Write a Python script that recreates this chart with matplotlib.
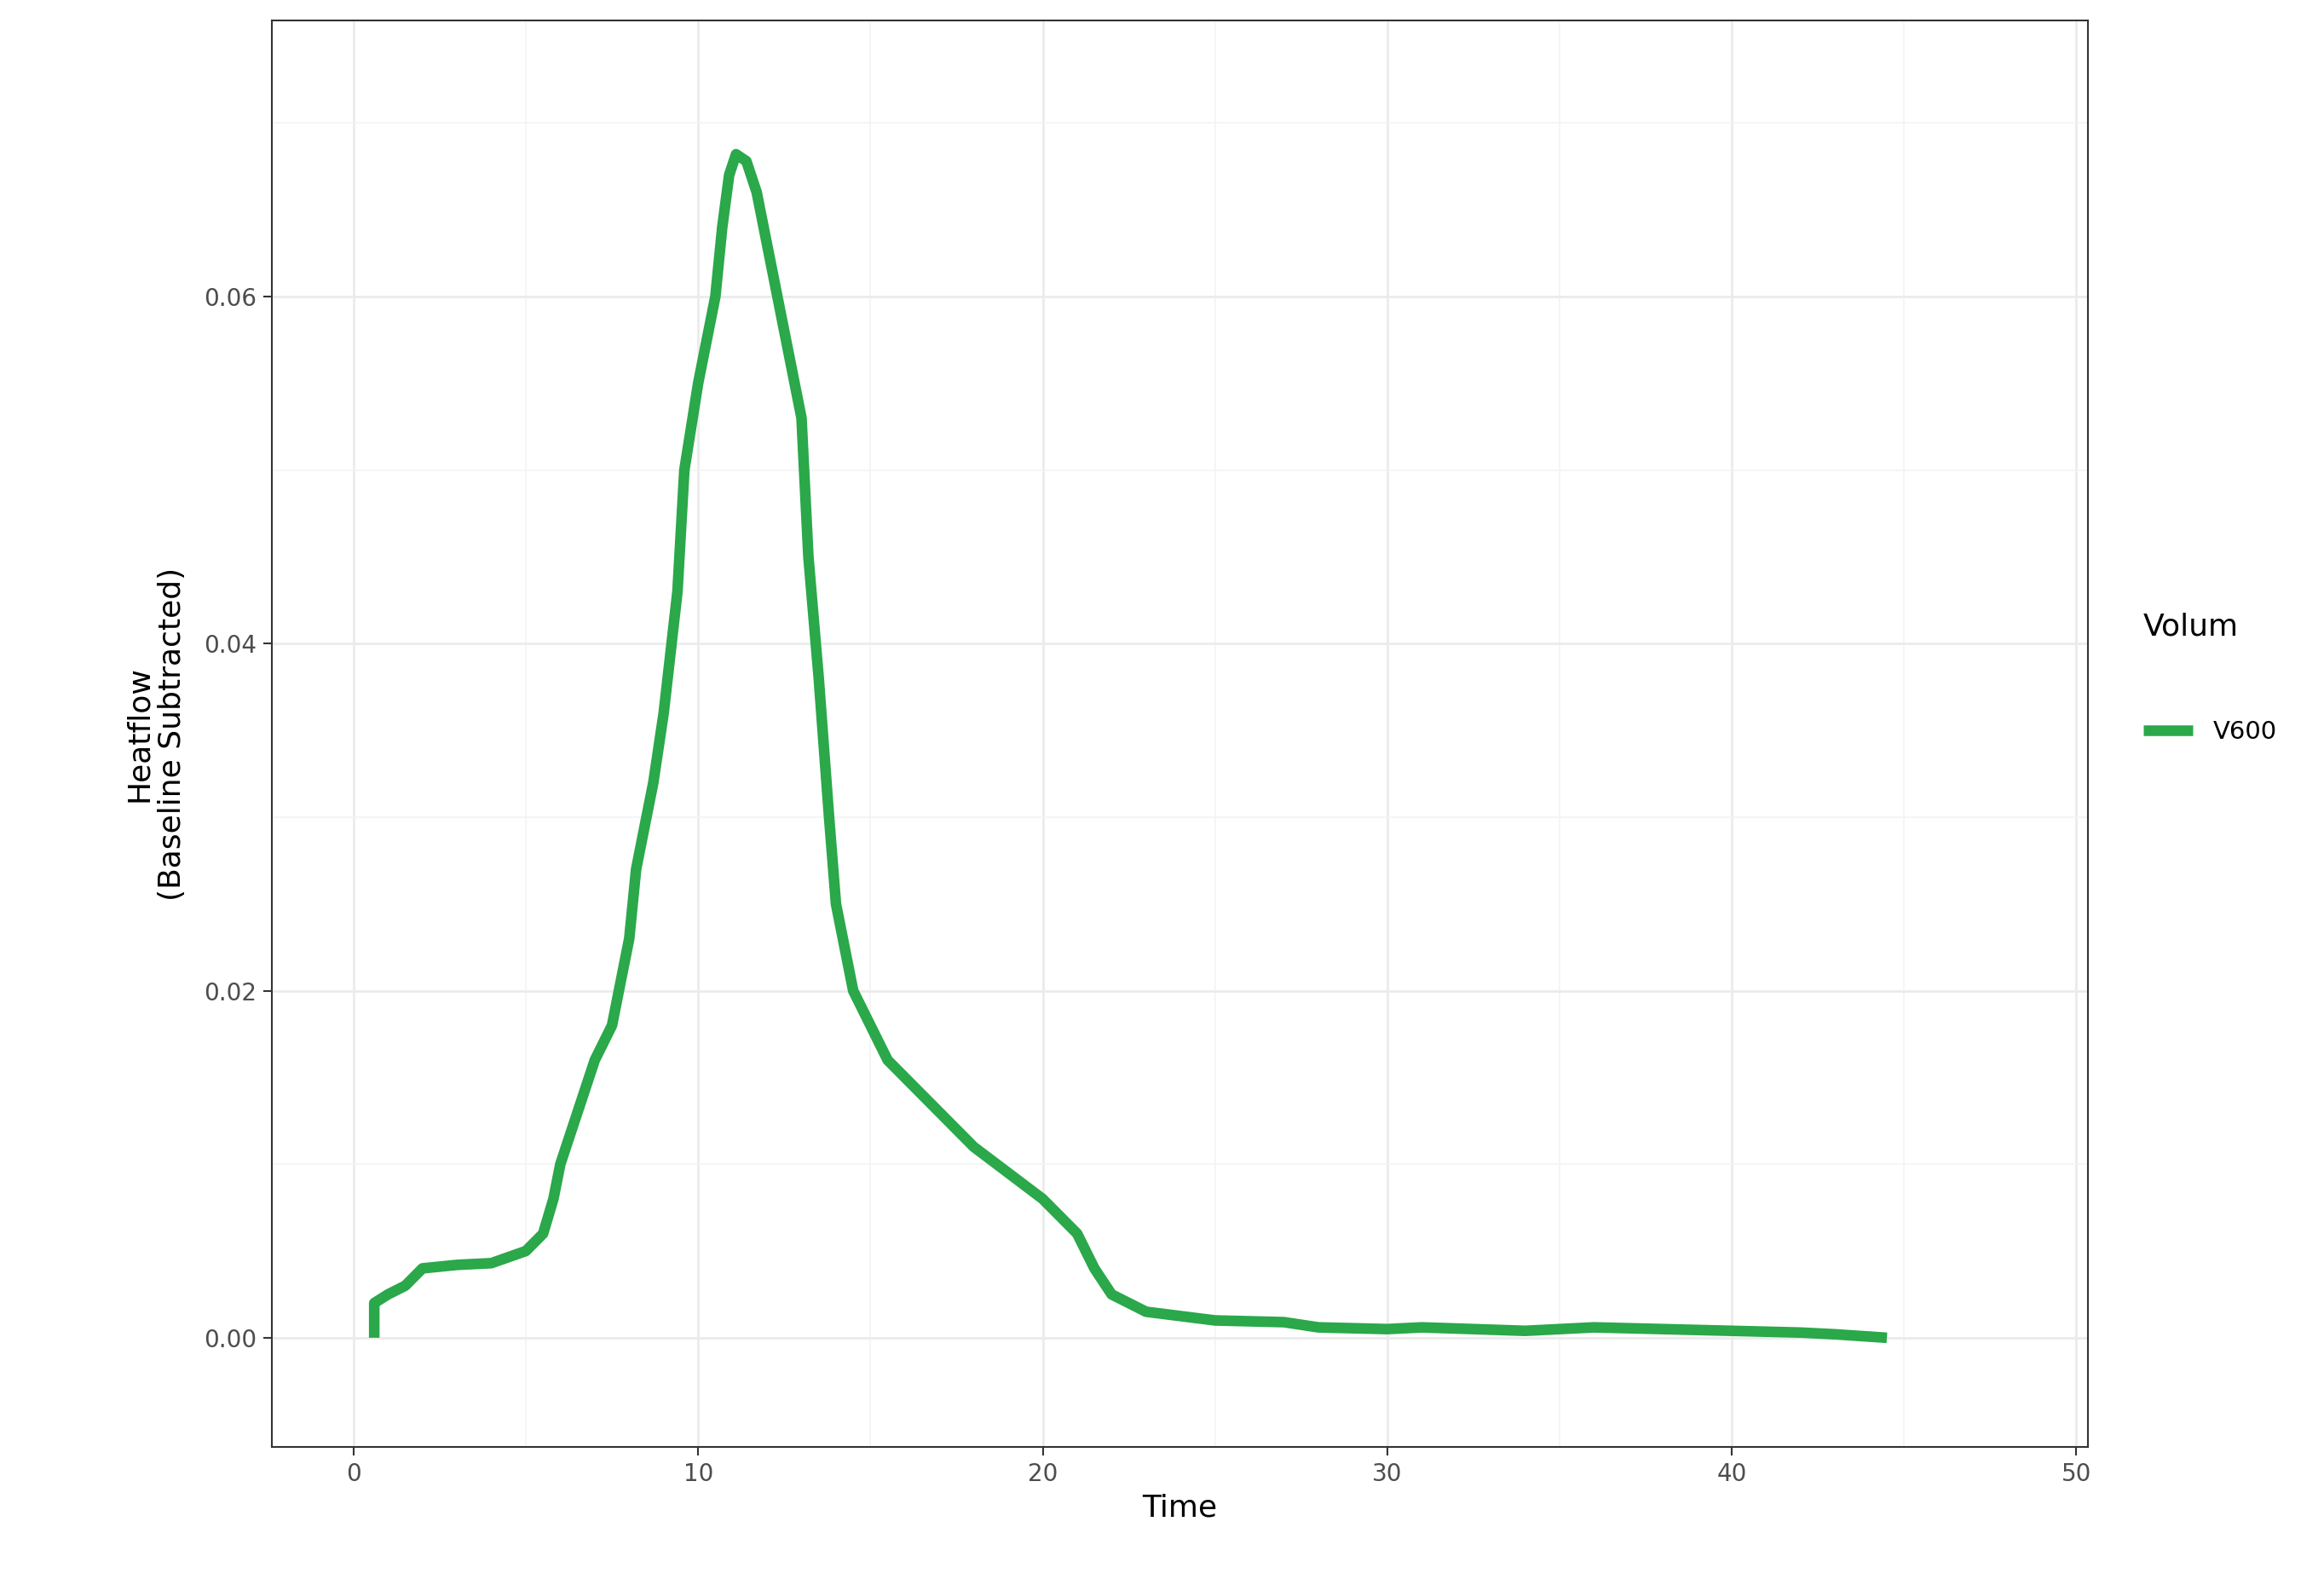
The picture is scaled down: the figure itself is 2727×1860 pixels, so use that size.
import matplotlib.pyplot as plt
from matplotlib.ticker import MultipleLocator

# heat flow curve
time = [0.6, 0.6, 1.0, 1.5, 2.0, 3.0, 4.0, 5.0, 5.5, 5.8, 6.0, 6.5, 7.0, 7.5, 8.0, 8.2,
        8.7, 9.0, 9.4, 9.6, 10.0, 10.5, 10.7, 10.9, 11.1, 11.4, 11.7, 12.0, 12.5, 13.0,
        13.2, 13.5, 13.8, 14.0, 14.5, 15.0, 15.5, 16.0, 17.0, 18.0, 19.0, 20.0, 21.0,
        21.5, 22.0, 23.0, 25.0, 27.0, 28.0, 30.0, 31.0, 34.0, 36.0, 38.0, 40.0, 42.0,
        43.0, 44.5]
heatflow = [0.0, 0.002, 0.0025, 0.003, 0.004, 0.0042, 0.0043, 0.005, 0.006, 0.008,
            0.010, 0.013, 0.016, 0.018, 0.023, 0.027, 0.032, 0.036, 0.043, 0.050,
            0.055, 0.060, 0.064, 0.067, 0.0682, 0.0678, 0.066, 0.063, 0.058, 0.053,
            0.045, 0.038, 0.030, 0.025, 0.020, 0.018, 0.016, 0.015, 0.013, 0.011,
            0.0095, 0.008, 0.006, 0.004, 0.0025, 0.0015, 0.001, 0.0009, 0.0006,
            0.0005, 0.0006, 0.0004, 0.0006, 0.0005, 0.0004, 0.0003, 0.0002, 0.0]
series_name = "V600"

fig = plt.figure(figsize=(27.27, 18.6), dpi=100)
ax = fig.add_axes([0.117, 0.087, 0.786 - 0.0045, 0.900])

ax.plot(time, heatflow, color="#2AA84A", lw=9, label=series_name,
        solid_joinstyle="round", solid_capstyle="butt")

ax.set_xlim(-2.37, 50.34)
ax.set_ylim(-0.0063, 0.0759)
ax.xaxis.set_major_locator(MultipleLocator(10))
ax.xaxis.set_minor_locator(MultipleLocator(5))
ax.yaxis.set_major_locator(MultipleLocator(0.02))
ax.yaxis.set_minor_locator(MultipleLocator(0.01))
ax.yaxis.set_major_formatter(plt.FuncFormatter(lambda v, p: f"{v:.2f}"))
ax.grid(which="major", color="#EBEBEB", lw=2)
ax.grid(which="minor", color="#F3F3F3", lw=1.2)
ax.set_axisbelow(True)
ax.tick_params(which="major", length=7, width=1.5, color="#333333",
               labelsize=20, labelcolor="#4D4D4D", pad=6)
ax.tick_params(which="minor", length=0)
for s in ax.spines.values():
    s.set_color("#333333")
    s.set_linewidth(1.5)

ax.set_xlabel("Time", fontsize=26, labelpad=6)
ax.set_ylabel("Heatflow\n(Baseline Subtracted)", fontsize=26, labelpad=14)

leg = ax.legend(loc="center left", bbox_to_anchor=(1.025, 0.53), frameon=False,
                title="Volum", fontsize=21, title_fontsize=26,
                handlelength=2.0, borderaxespad=0)
leg.get_title().set_position((0, 30))
leg._legend_box.align = "left"
leg._legend_box.sep = 45

fig.savefig("out.png", dpi=100)
